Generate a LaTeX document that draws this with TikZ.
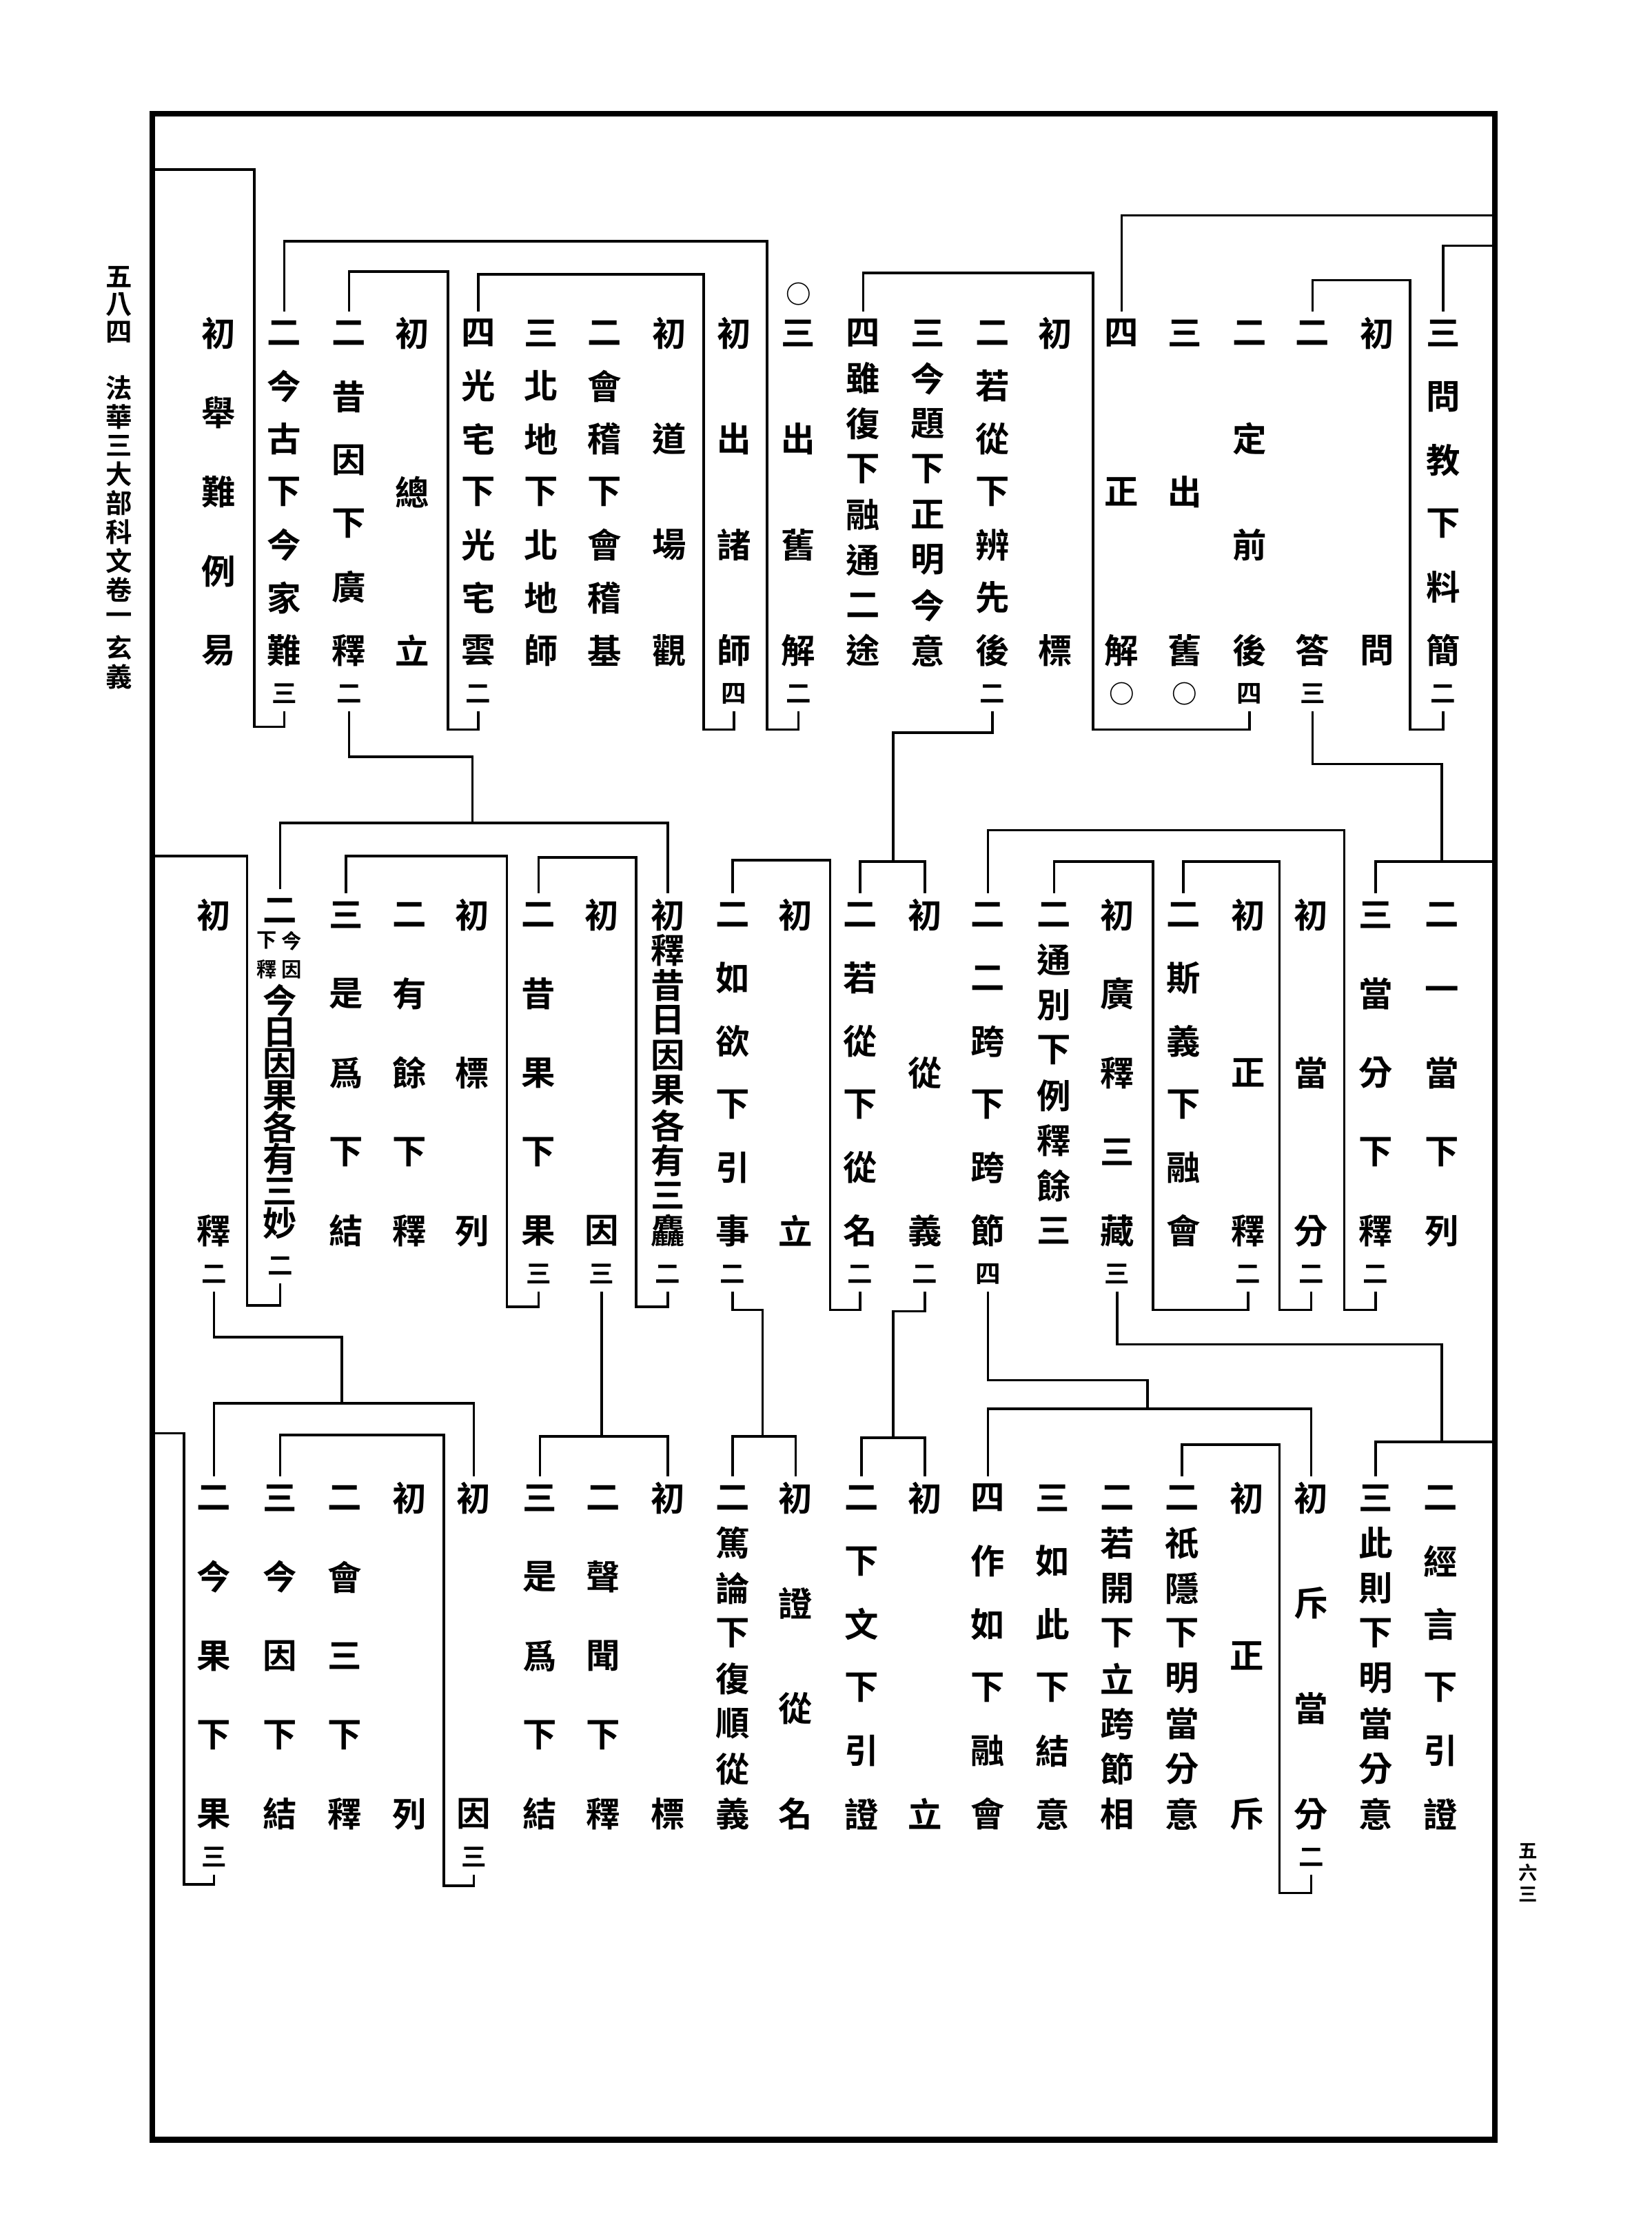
\documentclass[tikz,border=0pt]{standalone}
\usepackage{fontspec}
\IfFontExistsTF{Noto Sans CJK TC Bold}
  {\newfontfamily\cjk{Noto Sans CJK TC Bold}}
  {\newfontfamily\cjk{Noto Sans CJK TC}[FakeBold=2.5]}
\usetikzlibrary{positioning}
\newdimen\kunit \kunit=0.02cm
\makeatletter
\newcommand\kone[1]{\hbox to 1em{\hss\vbox to .9em{\vss\hbox{#1}\vss}\hss}}
\newcommand\kstack[2]{\vbox to \dimexpr#1\kunit+.9em\relax{\offinterlineskip
  \let\ksep\relax
  \@tfor\kch:=#2\do{\ksep\kone{\kch}\let\ksep\vfill}}}
\makeatother

\begin{document}
\begin{tikzpicture}[x=0.02cm,y=-0.02cm,
  col/.style={inner sep=0pt,outer sep=2.5pt,font=\cjk\fontsize{13.5}{13.5}\selectfont},
  cnt/.style={inner sep=0pt,outer sep=2.5pt,font=\cjk\fontsize{10}{10}\selectfont},
  note/.style={inner sep=0pt,outer sep=0pt,font=\cjk\fontsize{8}{8}\selectfont},
  hdr/.style={inner sep=0pt,font=\cjk\fontsize{10.5}{10.5}\selectfont},
  ftr/.style={inner sep=0pt,font=\cjk\fontsize{7.5}{7.5}\selectfont},
  link/.style={line width=1pt}]
  \useasboundingbox (0,0) rectangle (1150,1552);

  \node[draw,line width=2.4pt,inner sep=0pt,outer sep=0pt,
    minimum width=18.7cm,minimum height=28.22cm] (frame) at (573.5,784.5) {};
  \node[hdr] (folio) at (83,212) {\kstack{38}{五八四}};
  \node[hdr] (book) at (83,370.5) {\kstack{201}{法華三大部科文卷一玄義}};
  \node[ftr] (page) at (1064,1304) {\kstack{30}{五六三}};

  % first band
  \node[col] (a1) at (1005,342.5) {\kstack{221}{三問教下料簡}};
  \node[cnt,below=1.5pt of a1] (a1n) {\kone{二}};
  \node[col] (a2) at (959,342.5) {\kstack{221}{初問}};
  \node[col] (a3) at (914,342.5) {\kstack{221}{二答}};
  \node[cnt,below=1.5pt of a3] (a3n) {\kone{三}};
  \node[col] (a4) at (870,342.5) {\kstack{221}{二定前後}};
  \node[cnt,below=1.5pt of a4] (a4n) {\kone{四}};
  \node[col] (a5) at (825,342.5) {\kstack{221}{三出舊}};
  \node[cnt,below=1.5pt of a5] (a5n) {\kone{○}};
  \node[col] (a6) at (781,342.5) {\kstack{221}{四正解}};
  \node[cnt,below=1.5pt of a6] (a6n) {\kone{○}};
  \node[col] (a7) at (735,342.5) {\kstack{221}{初標}};
  \node[col] (a8) at (691,342.5) {\kstack{221}{二若從下辨先後}};
  \node[cnt,below=1.5pt of a8] (a8n) {\kone{二}};
  \node[col] (a9) at (646,342.5) {\kstack{221}{三今題下正明今意}};
  \node[col] (a10) at (601,342.5) {\kstack{221}{四雖復下融通二途}};
  \node[col] (a11) at (556,342.5) {\kstack{221}{三出舊解}};
  \node[cnt,below=1.5pt of a11] (a11n) {\kone{二}};
  \node[cnt,above=0pt of a11] (a11o) {\kone{○}};
  \node[col] (a12) at (511,342.5) {\kstack{221}{初出諸師}};
  \node[cnt,below=1.5pt of a12] (a12n) {\kone{四}};
  \node[col] (a13) at (466,342.5) {\kstack{221}{初道場觀}};
  \node[col] (a14) at (421,342.5) {\kstack{221}{二會稽下會稽基}};
  \node[col] (a15) at (377,342.5) {\kstack{221}{三北地下北地師}};
  \node[col] (a16) at (333,342.5) {\kstack{221}{四光宅下光宅雲}};
  \node[cnt,below=1.5pt of a16] (a16n) {\kone{二}};
  \node[col] (a17) at (287,342.5) {\kstack{221}{初總立}};
  \node[col] (a18) at (243,342.5) {\kstack{221}{二昔因下廣釋}};
  \node[cnt,below=1.5pt of a18] (a18n) {\kone{二}};
  \node[col] (a19) at (198,342.5) {\kstack{221}{二今古下今家難}};
  \node[cnt,below=1.5pt of a19] (a19n) {\kone{三}};
  \node[col] (a20) at (152,342.5) {\kstack{221}{初舉難例易}};

  % second band
  \node[col] (b1) at (1004,747) {\kstack{220}{二一當下列}};
  \node[col] (b2) at (958,747) {\kstack{220}{三當分下釋}};
  \node[cnt,below=1.5pt of b2] (b2n) {\kone{二}};
  \node[col] (b3) at (913,747) {\kstack{220}{初當分}};
  \node[cnt,below=1.5pt of b3] (b3n) {\kone{二}};
  \node[col] (b4) at (869,747) {\kstack{220}{初正釋}};
  \node[cnt,below=1.5pt of b4] (b4n) {\kone{二}};
  \node[col] (b5) at (824,747) {\kstack{220}{二斯義下融會}};
  \node[col] (b6) at (778,747) {\kstack{220}{初廣釋三藏}};
  \node[cnt,below=1.5pt of b6] (b6n) {\kone{三}};
  \node[col] (b7) at (734,747) {\kstack{220}{二通別下例釋餘三}};
  \node[col] (b8) at (688,747) {\kstack{220}{二二跨下跨節}};
  \node[cnt,below=1.5pt of b8] (b8n) {\kone{四}};
  \node[col] (b9) at (644,747) {\kstack{220}{初從義}};
  \node[cnt,below=1.5pt of b9] (b9n) {\kone{二}};
  \node[col] (b10) at (599,747) {\kstack{220}{二若從下從名}};
  \node[cnt,below=1.5pt of b10] (b10n) {\kone{二}};
  \node[col] (b11) at (554,747) {\kstack{220}{初立}};
  \node[col] (b12) at (510,747) {\kstack{220}{二如欲下引事}};
  \node[cnt,below=1.5pt of b12] (b12n) {\kone{二}};
  \node[col] (b13) at (465,747) {\kstack{220}{初釋昔日因果各有三麤}};
  \node[cnt,below=1.5pt of b13] (b13n) {\kone{二}};
  \node[col] (b14) at (419,747) {\kstack{220}{初因}};
  \node[cnt,below=1.5pt of b14] (b14n) {\kone{三}};
  \node[col] (b15) at (375,747) {\kstack{220}{二昔果下果}};
  \node[cnt,below=1.5pt of b15] (b15n) {\kone{三}};
  \node[col] (b16) at (329,747) {\kstack{220}{初標列}};
  \node[col] (b17) at (285,747) {\kstack{220}{二有餘下釋}};
  \node[col] (b18) at (241,747) {\kstack{220}{三是爲下結}};
  \node[col] (b19) at (195,634) {\kone{二}};
  \node[note] (b19r) at (203,665) {\kstack{20}{今因}};
  \node[note] (b19l) at (186,665) {\kstack{20}{下釋}};
  \node[col] (b19m) at (195,774) {\kstack{155}{今日因果各有三妙}};
  \node[cnt,below=1.5pt of b19m] (b19n) {\kone{二}};
  \node[col] (b20) at (149,747) {\kstack{220}{初釋}};
  \node[cnt,below=1.5pt of b20] (b20n) {\kone{二}};

  % third band
  \node[col] (c1) at (1003,1153) {\kstack{220}{二經言下引證}};
  \node[col] (c2) at (958,1153) {\kstack{220}{三此則下明當分意}};
  \node[col] (c3) at (913,1153) {\kstack{220}{初斥當分}};
  \node[cnt,below=1.5pt of c3] (c3n) {\kone{二}};
  \node[col] (c4) at (868,1153) {\kstack{220}{初正斥}};
  \node[col] (c5) at (823,1153) {\kstack{220}{二祇隱下明當分意}};
  \node[col] (c6) at (778,1153) {\kstack{220}{二若開下立跨節相}};
  \node[col] (c7) at (733,1153) {\kstack{220}{三如此下結意}};
  \node[col] (c8) at (688,1153) {\kstack{220}{四作如下融會}};
  \node[col] (c9) at (644,1153) {\kstack{220}{初立}};
  \node[col] (c10) at (600,1153) {\kstack{220}{二下文下引證}};
  \node[col] (c11) at (554,1153) {\kstack{220}{初證從名}};
  \node[col] (c12) at (510,1153) {\kstack{220}{二篤論下復順從義}};
  \node[col] (c13) at (465,1153) {\kstack{220}{初標}};
  \node[col] (c14) at (420,1153) {\kstack{220}{二聲聞下釋}};
  \node[col] (c15) at (376,1153) {\kstack{220}{三是爲下結}};
  \node[col] (c16) at (330,1153) {\kstack{220}{初因}};
  \node[cnt,below=1.5pt of c16] (c16n) {\kone{三}};
  \node[col] (c17) at (285,1153) {\kstack{220}{初列}};
  \node[col] (c18) at (240,1153) {\kstack{220}{二會三下釋}};
  \node[col] (c19) at (195,1153) {\kstack{220}{三今因下結}};
  \node[col] (c20) at (149,1153) {\kstack{220}{二今果下果}};
  \node[cnt,below=1.5pt of c20] (c20n) {\kone{三}};

  % brackets, first band
  \draw[link] (frame.east |- 0,150) -| (a6.north);
  \draw[link] (frame.east |- 0,171) -| (a1.north);
  \draw[link] (a1n.south) |- (982,508) |- (a3.north |- 0,195) -- (a3.north);
  \draw[link] (a4n.south) |- (761,508) |- (a10.north |- 0,190) -- (a10.north);
  \draw[link] (a11n.south) |- (534,508) |- (a19.north |- 0,168) -- (a19.north);
  \draw[link] (a12n.south) |- (490,508) |- (a16.north |- 0,191) -- (a16.north);
  \draw[link] (a16n.south) |- (312,508) |- (a18.north |- 0,189) -- (a18.north);
  \draw[link] (a19n.south) |- (177,506) |- (frame.west |- 0,118);
  \draw[link] (a3n.south) |- (1004,532) -- (1004,600);
  \draw[link] (frame.east |- 0,600) -| (b2.north);
  \draw[link] (a8n.south) |- (622,510) -- (622,600);
  \draw[link] (b10.north) |- (b9.north |- 0,600) -- (b9.north);
  \draw[link] (a18n.south) |- (329,527) -- (329,573);
  \draw[link] (b19.north) |- (b13.north |- 0,573) -- (b13.north);

  % brackets, second band
  \draw[link] (b2n.south) |- (936,912) |- (b8.north |- 0,578) -- (b8.north);
  \draw[link] (b3n.south) |- (891,912) |- (b5.north |- 0,600) -- (b5.north);
  \draw[link] (b4n.south) |- (803,912) |- (b7.north |- 0,600) -- (b7.north);
  \draw[link] (b10n.south) |- (578,912) |- (b12.north |- 0,599) -- (b12.north);
  \draw[link] (b13n.south) |- (443,910) |- (b15.north |- 0,597) -- (b15.north);
  \draw[link] (b15n.south) |- (353,910) |- (b18.north |- 0,596) -- (b18.north);
  \draw[link] (b19n.south) |- (172,909) |- (frame.west |- 0,596);
  \draw[link] (b6n.south) |- (1004,936) -- (1004,1004);
  \draw[link] (frame.east |- 0,1004) -| (c2.north);
  \draw[link] (b8n.south) |- (799,961) -- (799,981);
  \draw[link] (c8.north) |- (c3.north |- 0,981) -- (c3.north);
  \draw[link] (b9n.south) |- (622,913) -- (622,1001);
  \draw[link] (c10.north) |- (c9.north |- 0,1001) -- (c9.north);
  \draw[link] (b12n.south) |- (531,912) -- (531,1000);
  \draw[link] (c12.north) |- (c11.north |- 0,1000) -- (c11.north);
  \draw[link] (b14n.south) -- (b14n.south |- 0,1000);
  \draw[link] (c15.north) |- (c13.north |- 0,1000) -- (c13.north);
  \draw[link] (b20n.south) |- (238,931) -- (238,977);
  \draw[link] (c20.north) |- (c16.north |- 0,977) -- (c16.north);

  % brackets, third band
  \draw[link] (c3n.south) |- (891,1318) |- (c5.north |- 0,1006) -- (c5.north);
  \draw[link] (c16n.south) |- (309,1313) |- (c19.north |- 0,999) -- (c19.north);
  \draw[link] (c20n.south) |- (128,1312) |- (frame.west |- 0,998);
\end{tikzpicture}
\end{document}
